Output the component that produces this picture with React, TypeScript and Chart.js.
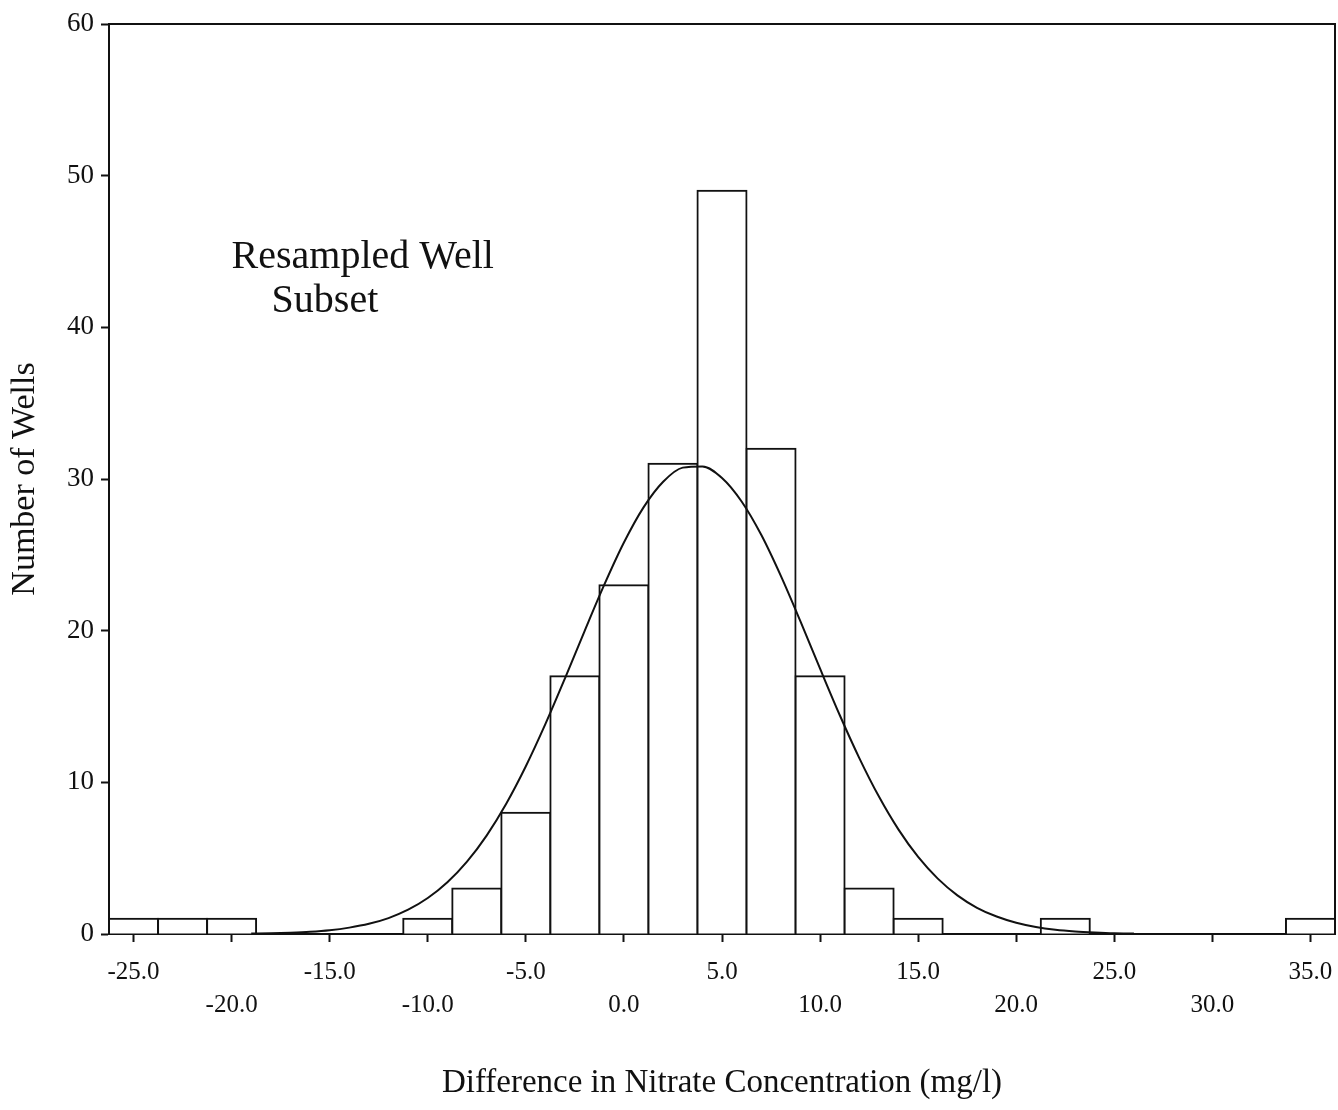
import React, { useEffect, useRef } from "react";
import { Chart, registerables } from "chart.js";

Chart.register(...registerables);

// Histogram bins (centre of each 2.5 mg/l class) and their well counts
const binCenters = [-25, -22.5, -20, -10, -7.5, -5, -2.5, 0, 2.5, 5, 7.5, 10, 12.5, 15, 22.5, 35];
const wellCounts = [1, 1, 1, 1, 3, 8, 17, 23, 31, 49, 32, 17, 3, 1, 1, 1];

// Fitted normal curve
const curveX = [
  -19, -18, -17, -16, -15, -14, -13, -12, -11, -10, -9, -8, -7, -6, -5, -4, -3, -2, -1, 0,
  1, 2, 3, 4, 5, 6, 7, 8, 9, 10, 11, 12, 13, 14, 15, 16, 17, 18, 19, 20, 21, 22, 23, 24, 25, 26,
];
const curveY = [
  0.03, 0.05, 0.09, 0.15, 0.25, 0.42, 0.67, 1.05, 1.6, 2.37, 3.41, 4.77, 6.49, 8.59, 11.06, 13.85,
  16.87, 19.99, 23.03, 25.81, 28.13, 29.82, 30.75, 30.83, 30.07, 28.52, 26.32, 23.61, 20.61, 17.49,
  14.44, 11.6, 9.06, 6.88, 5.08, 3.65, 2.55, 1.73, 1.15, 0.74, 0.46, 0.28, 0.17, 0.1, 0.05, 0.03,
];

const xTickValues = [-25, -20, -15, -10, -5, 0, 5, 10, 15, 20, 25, 30, 35];
const yTickValues = [0, 10, 20, 30, 40, 50, 60];

const xMin = -26.25;
const xMax = 36.25;
const yMin = 0;
const yMax = 60;

const xTitle = "Difference in Nitrate Concentration (mg/l)";
const yTitle = "Number of Wells";
const noteLines = ["Resampled Well", "Subset"];
const noteAnchors = [
  { x: -20, y: 43.9 },
  { x: -17.96, y: 41.0 },
];

const SERIF = "'Liberation Serif', 'Times New Roman', serif";
const INK = "#111";

const framePlugin = {
  id: "frameAndNote",
  afterDraw(chart: any) {
    const { ctx, chartArea, scales } = chart;
    ctx.save();
    ctx.strokeStyle = INK;
    ctx.lineWidth = 2;
    ctx.beginPath();
    ctx.moveTo(chartArea.left, chartArea.top);
    ctx.lineTo(chartArea.right, chartArea.top);
    ctx.lineTo(chartArea.right, chartArea.bottom);
    ctx.stroke();

    ctx.fillStyle = INK;
    ctx.font = `40px ${SERIF}`;
    ctx.textAlign = "left";
    ctx.textBaseline = "alphabetic";
    noteLines.forEach((line, i) => {
      const a = noteAnchors[i];
      ctx.fillText(line, scales.x.getPixelForValue(a.x), scales.y.getPixelForValue(a.y));
    });
    ctx.restore();
  },
};

export default function App() {
  const canvasRef = useRef<HTMLCanvasElement | null>(null);

  useEffect(() => {
    document.body.style.margin = "0";
    const canvas = canvasRef.current;
    if (!canvas) return;

    const chart = new Chart(canvas, {
      type: "bar",
      data: {
        datasets: [
          {
            type: "line",
            data: curveX.map((x, i) => ({ x, y: curveY[i] })),
            borderColor: INK,
            borderWidth: 2,
            pointRadius: 0,
            tension: 0.4,
            cubicInterpolationMode: "monotone",
            fill: false,
            order: 0,
          } as any,
          {
            type: "bar",
            data: binCenters.map((x, i) => ({ x, y: wellCounts[i] })),
            backgroundColor: "#ffffff",
            borderColor: INK,
            borderWidth: 2,
            borderSkipped: "bottom",
            inflateAmount: 1,
            barPercentage: 1,
            categoryPercentage: 1,
            order: 1,
          } as any,
        ],
      },
      options: {
        responsive: false,
        animation: false,
        layout: { padding: { left: 0, right: 3, top: 24, bottom: 0 } },
        plugins: { legend: { display: false }, tooltip: { enabled: false } },
        scales: {
          x: {
            type: "linear",
            min: xMin,
            max: xMax,
            offset: false,
            afterFit(scale: any) {
              scale.height = 176;
              scale.paddingLeft = 0;
              scale.paddingRight = 0;
            },
            afterBuildTicks(scale: any) {
              scale.ticks = xTickValues.map((v) => ({ value: v }));
            },
            ticks: {
              autoSkip: false,
              maxRotation: 0,
              minRotation: 0,
              padding: 14,
              color: INK,
              font: { family: SERIF, size: 25, lineHeight: 1.32 },
              callback: (value: any, index: number) => {
                const s = Number(value).toFixed(1);
                return index % 2 === 0 ? [s] : ["", s];
              },
            },
            grid: {
              offset: false,
              drawOnChartArea: false,
              drawTicks: true,
              tickLength: 8,
              tickColor: INK,
              tickWidth: 2,
            },
            border: { display: true, color: INK, width: 2 },
            title: {
              display: true,
              text: xTitle,
              color: INK,
              font: { family: SERIF, size: 33, lineHeight: 1.2 },
              padding: { top: 0, bottom: 7 },
            },
          },
          y: {
            type: "linear",
            min: yMin,
            max: yMax,
            afterFit(scale: any) {
              scale.width = 109;
            },
            afterBuildTicks(scale: any) {
              scale.ticks = yTickValues.map((v) => ({ value: v }));
            },
            ticks: {
              padding: 7,
              color: INK,
              font: { family: SERIF, size: 27 },
            },
            grid: {
              drawOnChartArea: false,
              drawTicks: true,
              tickLength: 8,
              tickColor: INK,
              tickWidth: 2,
            },
            border: { display: true, color: INK, width: 2 },
            title: {
              display: true,
              text: yTitle,
              color: INK,
              font: { family: SERIF, size: 34, lineHeight: 1.2 },
              padding: { top: 5, bottom: 0 },
            },
          },
        },
      },
      plugins: [framePlugin],
    });

    return () => chart.destroy();
  }, []);

  return (
    <div style={{ width: 1338, height: 1110 }}>
      <canvas ref={canvasRef} width={1338} height={1110} style={{ display: "block" }} />
    </div>
  );
}
